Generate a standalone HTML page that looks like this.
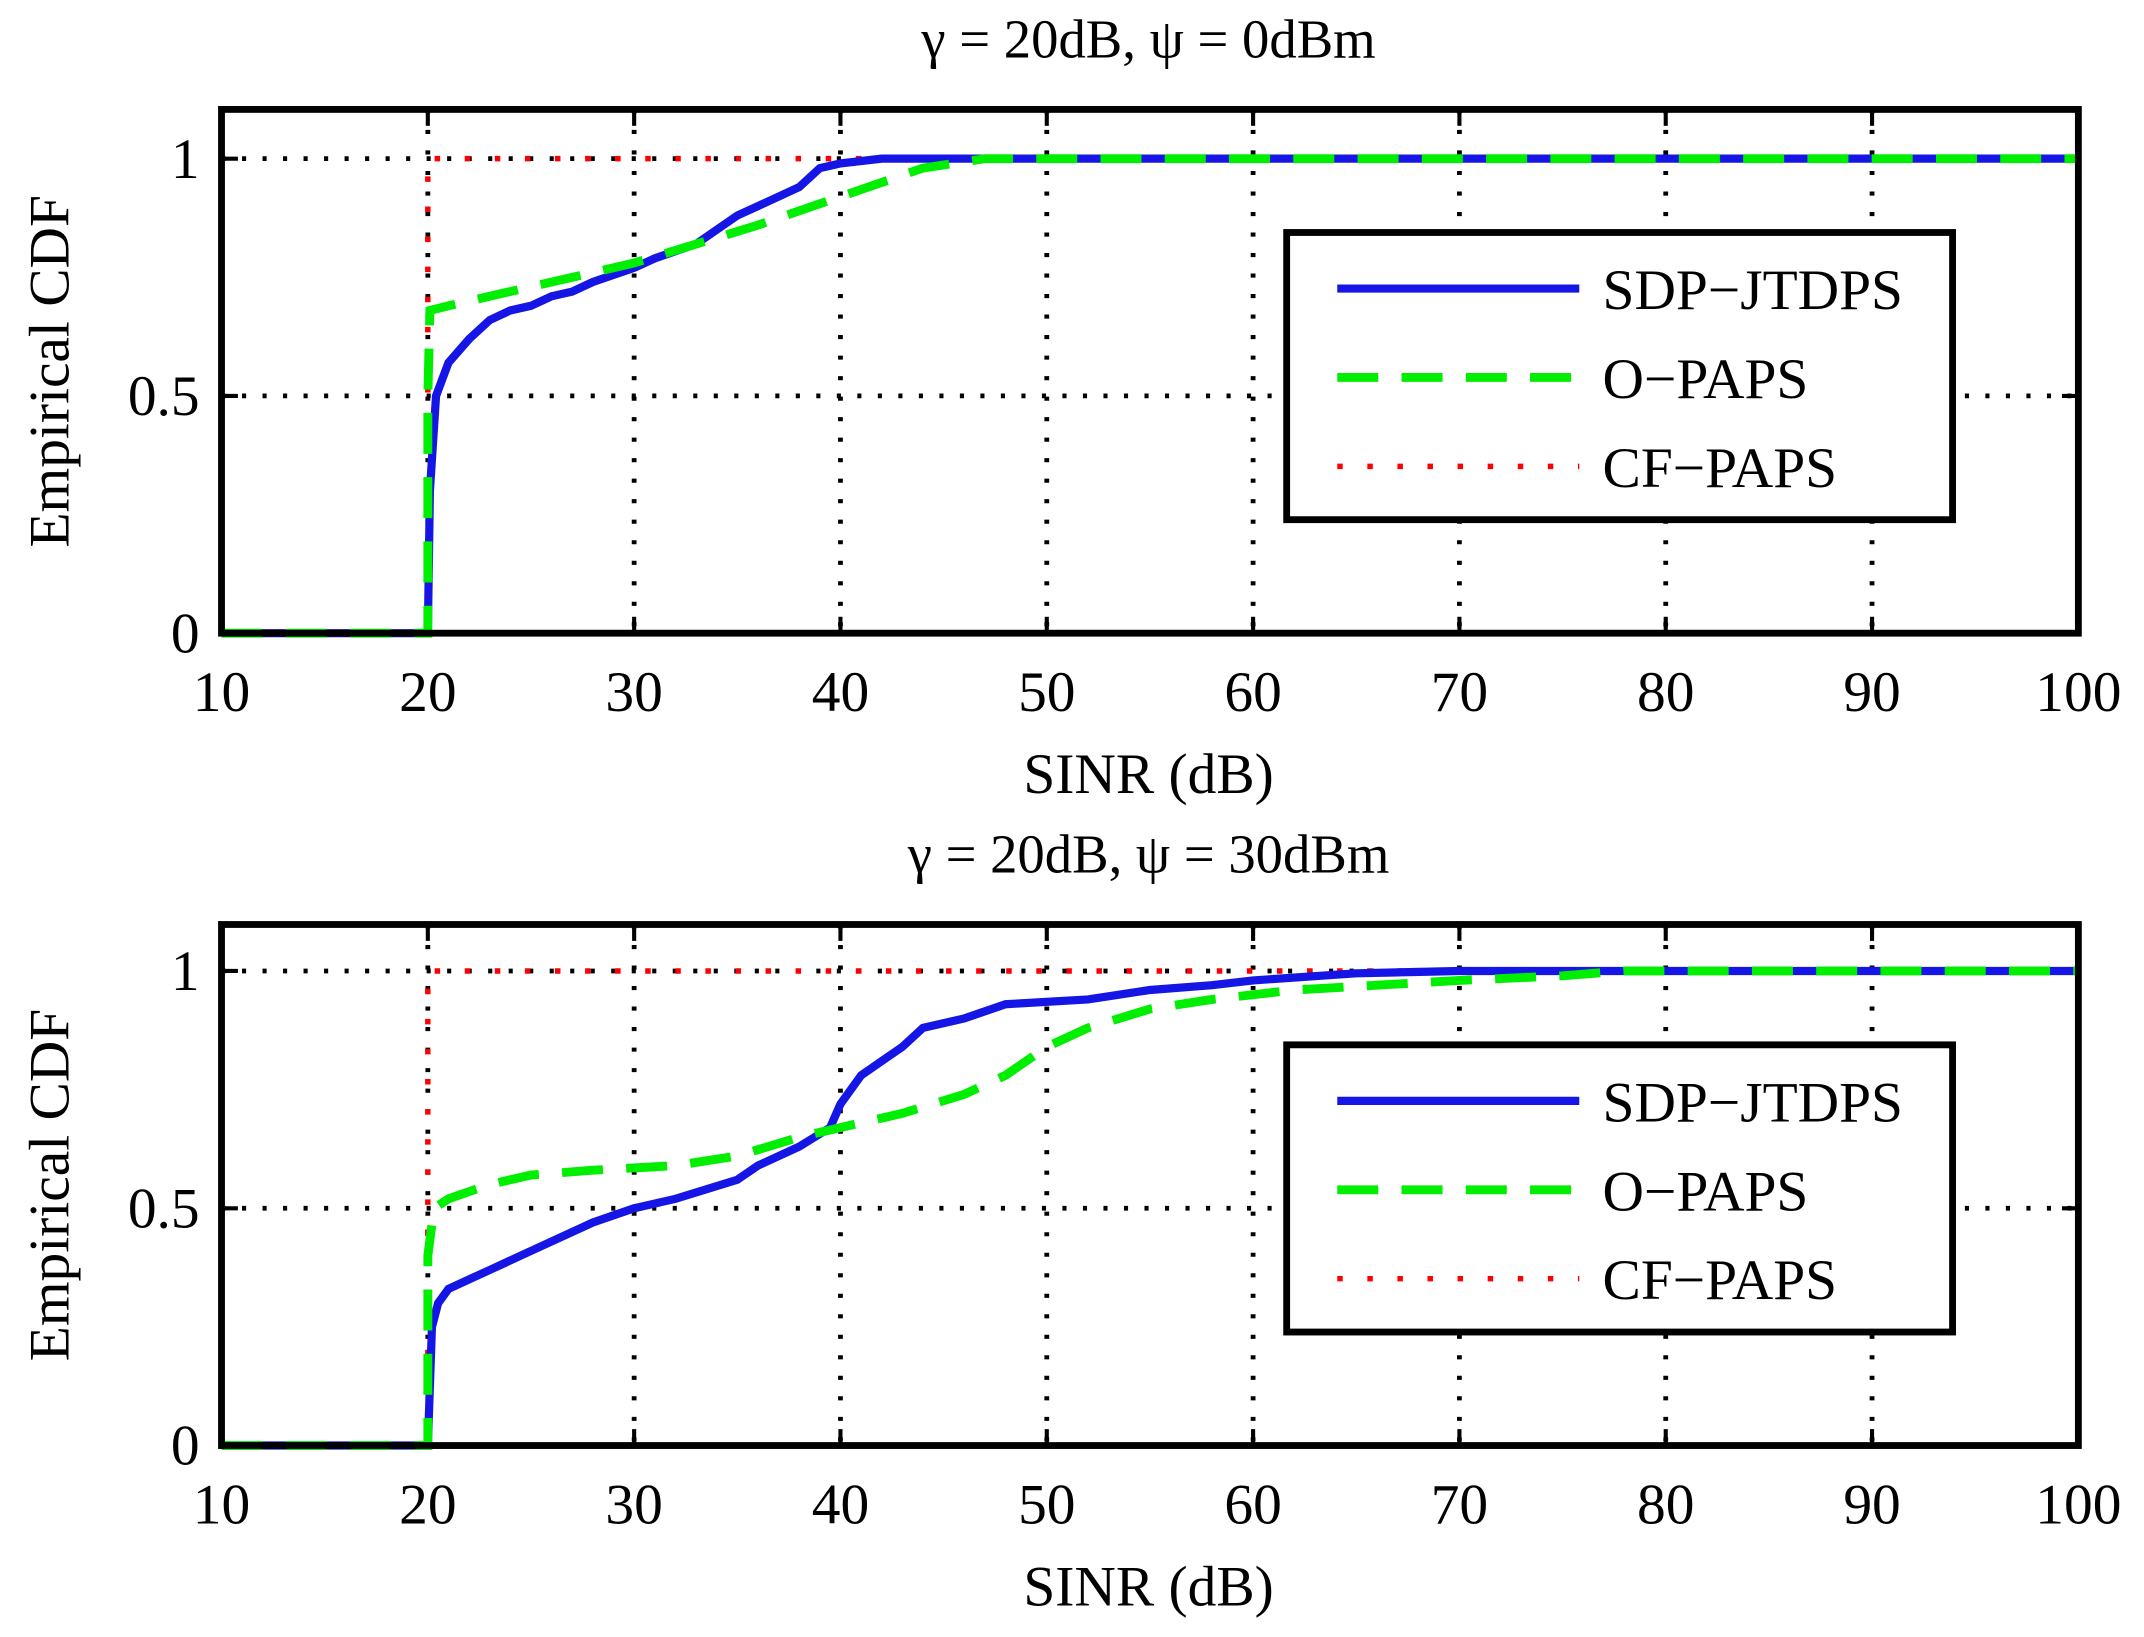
<!DOCTYPE html>
<html><head><meta charset="utf-8"><style>
html,body{margin:0;padding:0;background:#fff}
svg{display:block}
text{font-family:"Liberation Serif",serif;fill:#000}
</style></head><body>
<svg id="s" width="2144" height="1637" viewBox="0 0 1568 1197" preserveAspectRatio="none" xmlns="http://www.w3.org/2000/svg"></svg>
<script>
const s=document.getElementById('s');let h='';
const X=v=>162+(v-10)*15.0889;
function plot(top,y0,title,sdp,op,leg){
 const Y=p=>y0-347*p;
 h+=`<text x="840" y="${top-38}" font-size="40" text-anchor="middle">γ = 20dB, ψ = ${title}</text>`;
 for(let v=20;v<=90;v+=10)h+=`<line x1="${X(v)}" y1="${top}" x2="${X(v)}" y2="${y0}" stroke="#000" stroke-width="3.5" stroke-dasharray="3 12"/>`;
 for(const p of [0.5,1])h+=`<line x1="162" y1="${Y(p)}" x2="1520" y2="${Y(p)}" stroke="#000" stroke-width="3.5" stroke-dasharray="3 12"/>`;
 for(let v=10;v<=100;v+=10){h+=`<line x1="${X(v)}" y1="${y0}" x2="${X(v)}" y2="${y0-12}" stroke="#000" stroke-width="3"/><line x1="${X(v)}" y1="${top}" x2="${X(v)}" y2="${top+12}" stroke="#000" stroke-width="3"/>`;
  h+=`<text x="${X(v)}" y="${y0+57}" font-size="42" text-anchor="middle">${v}</text>`;}
 for(const [p,l] of [[0,'0'],[0.5,'0.5'],[1,'1']]){h+=`<line x1="162" y1="${Y(p)}" x2="174" y2="${Y(p)}" stroke="#000" stroke-width="3"/><line x1="1508" y1="${Y(p)}" x2="1520" y2="${Y(p)}" stroke="#000" stroke-width="3"/>`;
  h+=`<text x="146" y="${Y(p)+14}" font-size="42" text-anchor="end">${l}</text>`;}
 h+=`<text x="840" y="${y0+117}" font-size="42" text-anchor="middle">SINR (dB)</text>`;
 h+=`<text transform="translate(50 ${(top+y0)/2}) rotate(-90)" font-size="42" text-anchor="middle">Empirical CDF</text>`;
 const path=a=>a.map((q,i)=>(i?'L':'M')+X(q[0]).toFixed(1)+' '+Y(q[1]).toFixed(1)).join(' ');
 h+=`<path d="M${X(20)} ${Y(0)} L${X(20)} ${Y(1)} L1520 ${Y(1)}" fill="none" stroke="#f00" stroke-width="4" stroke-dasharray="4 18"/>`;
 h+=`<path d="${path(sdp)}" fill="none" stroke="#1515e6" stroke-width="6"/>`;
 h+=`<path d="${path(op)}" fill="none" stroke="#00ee00" stroke-width="6.5" stroke-dasharray="30 17"/>`;
 h+=`<rect x="162" y="${top}" width="1358" height="${y0-top}" fill="none" stroke="#000" stroke-width="5"/>`;
 const ly=leg;
 h+=`<rect x="941" y="${ly}" width="487" height="210" fill="#fff" stroke="#000" stroke-width="5"/>`;
 const e=[[41,'SDP−JTDPS','stroke="#1515e6" stroke-width="6"'],[106,'O−PAPS','stroke="#00ee00" stroke-width="6.5" stroke-dasharray="30 17"'],[171,'CF−PAPS','stroke="#f00" stroke-width="4" stroke-dasharray="4 18"']];
 for(const [dy,t,st] of e){h+=`<line x1="978" y1="${ly+dy}" x2="1155" y2="${ly+dy}" ${st}/><text x="1172" y="${ly+dy+15}" font-size="42">${t}</text>`;}
}
plot(80,463,'0dBm',
[[10,0],[20,0],[20.1,0.3],[20.4,0.5],[21,0.57],[22,0.62],[23,0.66],[24,0.68],[25,0.69],[26,0.71],[27,0.72],[28,0.74],[30,0.77],[31,0.79],[33,0.82],[35,0.88],[36,0.9],[38,0.94],[39,0.98],[40,0.99],[42,1],[100,1]],
[[10,0],[20,0],[20,0.5],[20.1,0.68],[21,0.69],[22,0.7],[25,0.73],[28,0.76],[30,0.78],[33,0.82],[36,0.86],[40,0.92],[42,0.95],[44,0.98],[47,1],[100,1]],170);
plot(676,1057,'30dBm',
[[10,0],[20,0],[20.2,0.25],[20.5,0.3],[21,0.33],[22,0.35],[23,0.37],[25,0.41],[28,0.47],[30,0.5],[32,0.52],[35,0.56],[36,0.59],[38,0.63],[39.5,0.67],[40,0.72],[41,0.78],[42,0.81],[43,0.84],[44,0.88],[46,0.9],[48,0.93],[52,0.94],[55,0.96],[58,0.97],[60,0.98],[65,0.995],[70,1],[100,1]],
[[10,0],[20,0],[20,0.4],[20.3,0.5],[21,0.52],[23,0.55],[25,0.57],[28,0.58],[32,0.59],[35,0.61],[38,0.65],[40,0.67],[43,0.7],[46,0.74],[48,0.78],[50,0.84],[52,0.88],[55,0.92],[58,0.94],[62,0.96],[66,0.97],[70,0.98],[75,0.99],[78,1],[100,1]],764);
s.innerHTML=h;
</script>
</body></html>
